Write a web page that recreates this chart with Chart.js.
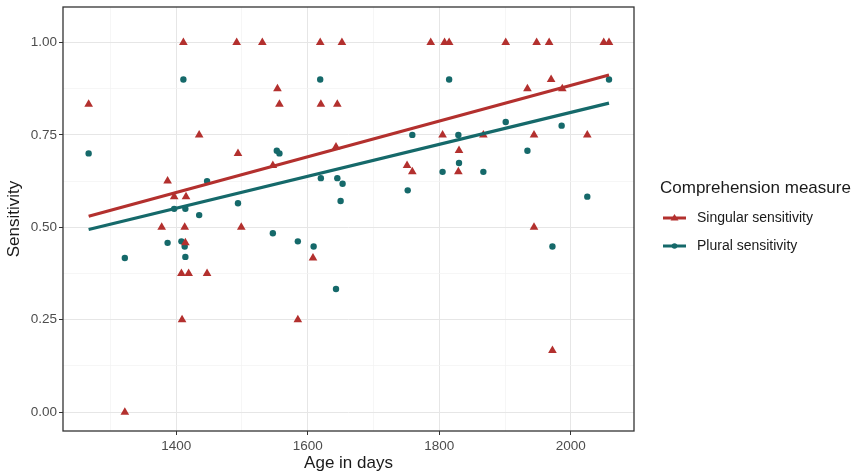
<!DOCTYPE html>
<html>
<head>
<meta charset="utf-8">
<script src="https://cdn.jsdelivr.net/npm/chart.js@4.4.0/dist/chart.umd.min.js"></script>
<style>
html, body { margin: 0; padding: 0; background: #fff; }
</style>
</head>
<body>
<canvas id="sensChart" width="854" height="474"></canvas>
<script>
// values
var singularAge  = [1267, 1322, 1378, 1387, 1397, 1408, 1409, 1411, 1413, 1414, 1415, 1419, 1435, 1447, 1492, 1494, 1499,
                    1531, 1547, 1554, 1557, 1585, 1608, 1619, 1620, 1643, 1645, 1652, 1751, 1759, 1787, 1805, 1808, 1815,
                    1829, 1830, 1867, 1901, 1934, 1944, 1944, 1948, 1967, 1970, 1972, 1987, 2025, 2050, 2058];
var singularSens = [0.833, 0, 0.5, 0.625, 0.583, 0.375, 0.25, 1, 0.5, 0.458, 0.583, 0.375, 0.75, 0.375, 1, 0.7, 0.5,
                    1, 0.667, 0.875, 0.833, 0.25, 0.417, 1, 0.833, 0.717, 0.833, 1, 0.667, 0.65, 1, 0.75, 1, 1,
                    0.65, 0.708, 0.75, 1, 0.875, 0.75, 0.5, 1, 1, 0.9, 0.167, 0.875, 0.75, 1, 1];

var pluralAge  = [1267, 1322, 1387, 1397, 1408, 1411, 1413, 1414, 1414, 1435, 1447, 1494, 1547, 1553, 1557, 1585, 1609,
                  1619, 1620, 1643, 1645, 1650, 1653, 1752, 1759, 1805, 1815, 1829, 1830, 1867, 1901, 1934, 1972,
                  1986, 2025, 2058];
var pluralSens = [0.7, 0.417, 0.458, 0.55, 0.462, 0.9, 0.448, 0.55, 0.42, 0.533, 0.625, 0.565, 0.484, 0.707, 0.7, 0.462, 0.448,
                  0.9, 0.633, 0.333, 0.633, 0.571, 0.618, 0.6, 0.75, 0.65, 0.9, 0.75, 0.674, 0.65, 0.785, 0.707, 0.448,
                  0.775, 0.583, 0.9];

// fitted lines (end points)
var fitAge      = [1267, 2058];
var singularFit = [0.53, 0.912];
var pluralFit   = [0.494, 0.836];

var xTicks    = [1300, 1400, 1500, 1600, 1700, 1800, 1900, 2000];
var xLabelled = [1400, 1600, 1800, 2000];
var yTicks    = [0, 0.125, 0.25, 0.375, 0.5, 0.625, 0.75, 0.875, 1];
var yLabelled = [0, 0.25, 0.5, 0.75, 1];

var seriesNames = ['Singular sensitivity', 'Plural sensitivity'];
var legendTitle = 'Comprehension measure';

var red  = '#b3302e';
var teal = '#15696a';
var fontFam = "'Liberation Sans', Arial, sans-serif";

function toPoints(xs, ys) {
    return xs.map(function(x, i) { return { x: x, y: ys[i] }; });
}

function isIn(list, v) {
    return list.some(function(t) { return Math.abs(t - v) < 1e-6; });
}

// panel border + ggplot-like legend on the right
var panelAndLegend = {
    id: 'panelAndLegend',
    afterDraw: function(chart) {
        var ctx = chart.ctx;
        var a = chart.chartArea;
        ctx.save();
        ctx.strokeStyle = '#333333';
        ctx.lineWidth = 1.3;
        ctx.strokeRect(a.left, a.top, a.right - a.left, a.bottom - a.top);

        ctx.fillStyle = '#1a1a1a';
        ctx.textBaseline = 'middle';
        ctx.font = '17px ' + fontFam;
        ctx.fillText(legendTitle, 660, 188);

        var cols = [red, teal];
        ctx.font = '14px ' + fontFam;
        for (var i = 0; i < seriesNames.length; i++) {
            var y = 218 + i * 28;
            ctx.strokeStyle = cols[i];
            ctx.lineWidth = 3;
            ctx.beginPath();
            ctx.moveTo(663, y);
            ctx.lineTo(686, y);
            ctx.stroke();
            ctx.fillStyle = cols[i];
            ctx.beginPath();
            if (i === 0) {
                ctx.moveTo(674.5, y - 4);
                ctx.lineTo(678.5, y + 2.5);
                ctx.lineTo(670.5, y + 2.5);
                ctx.closePath();
            } else {
                ctx.arc(674.5, y, 2.8, 0, Math.PI * 2);
            }
            ctx.fill();
            ctx.fillStyle = '#1a1a1a';
            ctx.fillText(seriesNames[i], 697, y);
        }
        ctx.restore();
    }
};

var ctx = document.getElementById('sensChart').getContext('2d');
var sensChart = new Chart(ctx, {
    type: 'scatter',
    data: {
        datasets: [
            {
                label: seriesNames[0] + ' fit',
                data: toPoints(fitAge, singularFit),
                showLine: true,
                borderColor: red,
                borderWidth: 3.2,
                pointRadius: 0,
                order: 0
            },
            {
                label: seriesNames[1] + ' fit',
                data: toPoints(fitAge, pluralFit),
                showLine: true,
                borderColor: teal,
                borderWidth: 3.2,
                pointRadius: 0,
                order: 0
            },
            {
                label: seriesNames[0],
                data: toPoints(singularAge, singularSens),
                pointStyle: 'triangle',
                pointRadius: 5,
                backgroundColor: red,
                borderColor: red,
                borderWidth: 0,
                order: 1
            },
            {
                label: seriesNames[1],
                data: toPoints(pluralAge, pluralSens),
                pointStyle: 'circle',
                pointRadius: 3.2,
                backgroundColor: teal,
                borderColor: teal,
                borderWidth: 0,
                order: 1
            }
        ]
    },
    options: {
        responsive: false,
        animation: false,
        layout: {
            padding: { left: 0, top: 7, right: 220, bottom: 0 }
        },
        plugins: {
            legend: { display: false },
            tooltip: { enabled: false }
        },
        scales: {
            x: {
                type: 'linear',
                min: 1228,
                max: 2096,
                afterBuildTicks: function(scale) {
                    scale.ticks = xTicks.map(function(v) { return { value: v }; });
                },
                afterFit: function(scale) { scale.height = 43; },
                border: { display: false },
                grid: {
                    color: function(c) { return isIn(xLabelled, c.tick.value) ? '#e6e6e6' : '#f2f2f2'; },
                    lineWidth: function(c) { return isIn(xLabelled, c.tick.value) ? 1 : 0.7; },
                    tickLength: 4,
                    tickColor: function(c) { return isIn(xLabelled, c.tick.value) ? '#333333' : 'rgba(0,0,0,0)'; }
                },
                ticks: {
                    autoSkip: false,
                    maxRotation: 0,
                    padding: 3,
                    color: '#4d4d4d',
                    font: { family: fontFam, size: 13.5 },
                    callback: function(v) { return isIn(xLabelled, v) ? String(v) : ''; }
                },
                title: {
                    display: true,
                    text: 'Age in days',
                    color: '#1a1a1a',
                    font: { family: fontFam, size: 17 },
                    padding: { top: 0, bottom: 0 }
                }
            },
            y: {
                type: 'linear',
                min: -0.051,
                max: 1.096,
                afterBuildTicks: function(scale) {
                    scale.ticks = yTicks.map(function(v) { return { value: v }; });
                },
                afterFit: function(scale) {
                    scale.width = 63;
                    scale.paddingTop = 0;
                    scale.paddingBottom = 0;
                },
                border: { display: false },
                grid: {
                    color: function(c) { return isIn(yLabelled, c.tick.value) ? '#e6e6e6' : '#f2f2f2'; },
                    lineWidth: function(c) { return isIn(yLabelled, c.tick.value) ? 1 : 0.7; },
                    tickLength: 4,
                    tickColor: function(c) { return isIn(yLabelled, c.tick.value) ? '#333333' : 'rgba(0,0,0,0)'; }
                },
                ticks: {
                    autoSkip: false,
                    padding: 2,
                    color: '#4d4d4d',
                    font: { family: fontFam, size: 13.5 },
                    callback: function(v) { return isIn(yLabelled, v) ? v.toFixed(2) : ''; }
                },
                title: {
                    display: true,
                    text: 'Sensitivity',
                    color: '#1a1a1a',
                    font: { family: fontFam, size: 17 },
                    padding: { top: 4, bottom: 0 }
                }
            }
        }
    },
    plugins: [panelAndLegend]
});
</script>
</body>
</html>
